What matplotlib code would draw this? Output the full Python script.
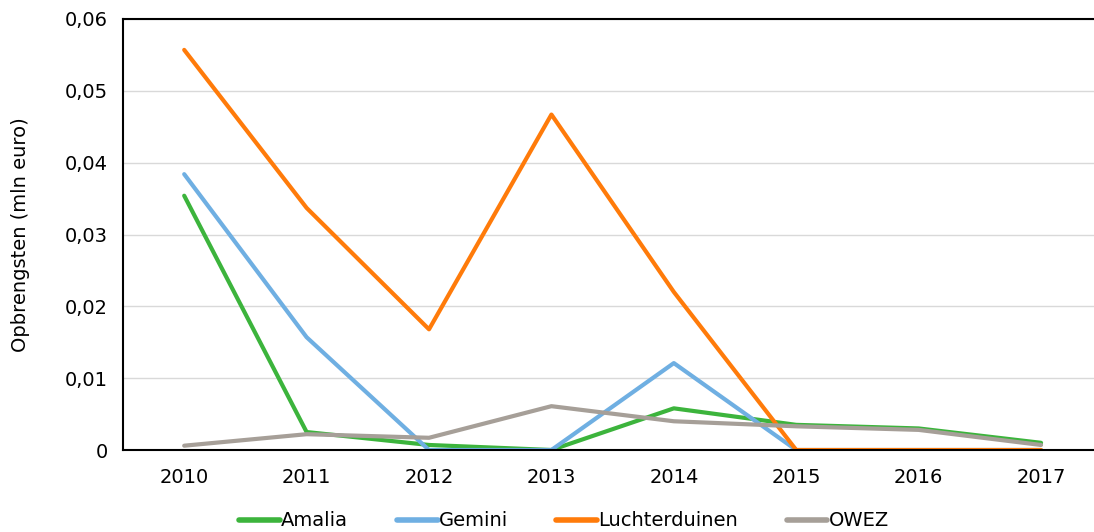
import matplotlib
matplotlib.use("Agg")
import matplotlib.pyplot as plt
from matplotlib.ticker import FuncFormatter

years = ["2010", "2011", "2012", "2013", "2014", "2015", "2016", "2017"]
amalia = [0.0354, 0.0025, 0.0007, 0.0, 0.0058, 0.0035, 0.0030, 0.0010]
gemini = [0.0384, 0.0157, 0.0, 0.0, 0.0121, 0.0, 0.0, 0.0]
luchterduinen = [0.0557, 0.0337, 0.0168, 0.0467, 0.0220, 0.0, 0.0, 0.0]
owez = [0.0006, 0.0022, 0.0017, 0.0061, 0.0040, 0.0033, 0.0028, 0.0007]

series = [
    ("Amalia", amalia, "#3cb43c"),
    ("Gemini", gemini, "#6fafe2"),
    ("Luchterduinen", luchterduinen, "#ff7b0a"),
    ("OWEZ", owez, "#a69f98"),
]

FS = 14
plt.rcParams['font.family'] = ['DejaVu Sans']
fig = plt.figure(figsize=(10.94, 5.32), dpi=100)
W, H = 1094, 532
left, right, top, bottom = 123, 1094, 19, 450
ax = fig.add_axes([left / W, 1 - bottom / H, (right - left) / W, (bottom - top) / H])

x = list(range(len(years)))
for name, vals, col in series:
    ax.plot(x, vals, color=col, lw=3.0, label=name, solid_capstyle='round', solid_joinstyle='round')

ax.set_ylim(0, 0.06)
ax.set_xlim(-0.5, (right - 185) / 122.3)
ax.set_xticks(x)
ax.set_xticklabels(years)
ax.set_yticks([0, 0.01, 0.02, 0.03, 0.04, 0.05, 0.06])
ax.yaxis.set_major_formatter(FuncFormatter(lambda v, p: "0" if v == 0 else f"{v:.2f}".replace(".", ",")))
ax.grid(axis='y', color='#d9d9d9', lw=1)
ax.set_axisbelow(True)
for s in ['left', 'top', 'bottom']:
    ax.spines[s].set_color('black')
    ax.spines[s].set_linewidth(1.5)
ax.spines['right'].set_visible(False)
ax.tick_params(axis='both', length=0, labelsize=FS, colors='black')
ax.tick_params(axis='y', pad=11)
ax.tick_params(axis='x', pad=13)
ax.set_ylabel("Opbrengsten (mln euro)", fontsize=FS, labelpad=25)

leg = fig.legend(loc='center', bbox_to_anchor=(564 / W, 1 - 521 / H), ncol=4, frameon=False,
                 fontsize=FS, handlelength=2.1, handletextpad=0.05, columnspacing=2.5)
for h in leg.get_lines():
    h.set_linewidth(4)
fig.savefig("out.png", dpi=100)
